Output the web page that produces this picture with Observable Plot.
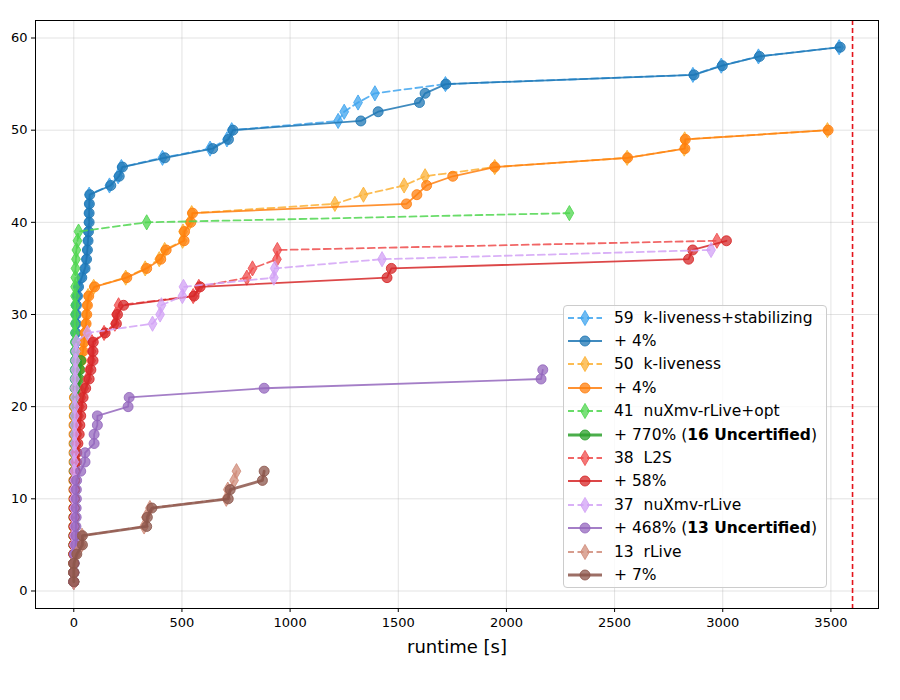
<!DOCTYPE html>
<html>
<head>
<meta charset="utf-8">
<script src="https://cdn.jsdelivr.net/npm/d3@7"></script>
<script src="https://cdn.jsdelivr.net/npm/@observablehq/plot@0.6"></script>
<style>
  body { margin: 0; background: #fff; font-family: "DejaVu Sans", sans-serif; }
  #chart { position: relative; width: 900px; height: 700px; }
  #legend {
    position: absolute; left: 563px; top: 305px; width: 264px; height: 283px;
    box-sizing: border-box; border: 1px solid #cccccc; border-radius: 4px;
    background: rgba(255,255,255,0.8); padding: 0 0 0 4px;
  }
  .row { height: 23.4px; display: flex; align-items: center; font-size: 15.5px; white-space: pre; color: #000; }
  .row svg { margin-right: 12px; flex: none; }
</style>
</head>
<body>
<div id="chart"></div>
<script>
// Timeout limit and axis ticks
const timeout = 3600;
const xTicks = [0, 500, 1000, 1500, 2000, 2500, 3000, 3500];
const yTicks = [0, 10, 20, 30, 40, 50, 60];

// Sorted runtimes [s] of solved instances per configuration (cactus plot: n-th solved vs runtime)
const kLiveStab = [0,0,0,0,0,0,1,1,1,1, 2,2,2,2,3,3,3,4,4,5, 5,6,6,7,7,8,8,9,10,10,
  11,16,21,35,50,57,61,64,66,68,69,70,71, 165,205,220,410,630,708,730,
  1222,1250,1314,1392,1718,2862,2993,3165,3538];
const kLiveStabCert = [0,0,0,0,0,1,1,1,1,2, 2,2,2,3,3,3,4,4,5,5, 6,6,7,7,8,8,9,9,10,11,
  12,17,22,37,52,59,63,66,68,71,71,72,74, 171,210,225,421,642,715,736,
  1327,1407,1598,1624,1720,2867,2998,3170,3543];

const kLive = [0,0,0,0,0,0,0,0,0,0, 0,0,0,1,1,1,1,1,1,2,
  2,8,15,23,33,41,46,50,55,58,61,66,92, 240,330,395,420,503,505,535,545,
  1207,1339,1527,1624,1946,2558,2822,2824,3484];
const kLiveCert = [0,0,0,0,0,0,0,0,0,0, 0,0,1,1,1,1,1,1,2,2,
  3,9,17,25,35,43,48,52,57,60,63,69,96, 245,337,402,427,510,512,541,549,
  1538,1586,1631,1752,1946,2560,2825,2827,3487];

const nuXmvOpt = [0,0,0,0,0,0,0,0,0,0, 1,1,1,1,1,1,2,2,2,2,
  3,3,3,3,4,4,4,5,5,5,6,6,6,7, 8,10,12,17,22,337,2291];
const nuXmvOptCert = [0,0,0,1,1,1,2,2,3,3, 4,4,5,6,7,8,9,11,13,15, 18,21,25,28,32];

const l2s = [0,0,0,0,0,0,1,1,2,2, 3,4,6,8,10,13,17,20,24,28,
  35,48,62,70,80,82,84,140,190,195,207, 552,578,800,826,939,941,2973];
const l2sCert = [0,0,0,0,1,1,1,2,2,3, 4,5,7,12,14,19,25,28,32,37,
  43,55,71,79,89,89,90,145,197,202,230, 556,584,1448,1468,2842,2861,3017];

const nuXmv = [0,0,0,0,0,0,1,1,1,1, 1,2,2,2,2,3,3,3,4,4,
  5,5,6,7,8,9,11, 63,364,399,405,502,507,925,929,1425,2946];
const nuXmvCert = [0,1,2,3,9,10,10,11,11,12, 12,13,32,52,52,94,94,109,109,251,
  256,880,2160,2168];

const rLive = [0,0,0,12,36,38,325,333,352,705,712,741,752];
const rLiveCert = [0,0,1,14,40,40,337,340,361,714,723,872,880];

// Legend entries: label text, bold part, closing text
const labels = [
  ["59  k-liveness+stabilizing"], ["+ 4%"],
  ["50  k-liveness"], ["+ 4%"],
  ["41  nuXmv-rLive+opt"], ["+ 770% (", "16 Uncertified", ")"],
  ["38  L2S"], ["+ 58%"],
  ["37  nuXmv-rLive"], ["+ 468% (", "13 Uncertified", ")"],
  ["13  rLive"], ["+ 7%"]
];

// Drawing style per series (dashed = solver run, solid = with certification)
const series = [
  {values: kLiveStab,     color: "#3fa4ee", dashed: true,  width: 1.8},
  {values: kLiveStabCert, color: "#1f77b4", dashed: false, width: 1.8},
  {values: kLive,         color: "#fbb034", dashed: true,  width: 1.8},
  {values: kLiveCert,     color: "#ff7f0e", dashed: false, width: 1.8},
  {values: nuXmvOpt,      color: "#4fd64f", dashed: true,  width: 1.8},
  {values: nuXmvOptCert,  color: "#2ca02c", dashed: false, width: 2.8},
  {values: l2s,           color: "#ef4b4b", dashed: true,  width: 1.8},
  {values: l2sCert,       color: "#d62728", dashed: false, width: 1.8},
  {values: nuXmv,         color: "#d2a2f6", dashed: true,  width: 1.8},
  {values: nuXmvCert,     color: "#9467bd", dashed: false, width: 1.8},
  {values: rLive,         color: "#d08c7a", dashed: true,  width: 1.8},
  {values: rLiveCert,     color: "#8c564b", dashed: false, width: 2.8}
];

const seriesMarks = series.flatMap(s => {
  const data = s.values.map((t, i) => ({t, n: i + 1}));
  return [
    Plot.line(data, {x: "t", y: "n", stroke: s.color, strokeWidth: s.width,
      strokeOpacity: 0.85, strokeDasharray: s.dashed ? "7,4" : null}),
    Plot.dot(data, {x: "t", y: "n", symbol: s.dashed ? "diamond" : "circle",
      r: s.dashed ? 4.6 : 5, fill: s.color, fillOpacity: 0.75,
      stroke: s.color, strokeOpacity: 0.85, strokeWidth: 1})
  ];
});

const chart = Plot.plot({
  width: 900,
  height: 700,
  marginLeft: 35,
  marginRight: 22,
  marginTop: 20,
  marginBottom: 92,
  style: {fontFamily: "DejaVu Sans, sans-serif", background: "#fff", color: "#000"},
  x: {domain: [-177, 3720]},
  y: {domain: [-1.9, 61.9]},
  marks: [
    Plot.gridX(xTicks, {stroke: "#b0b0b0", strokeOpacity: 0.35, strokeWidth: 1}),
    Plot.gridY(yTicks, {stroke: "#b0b0b0", strokeOpacity: 0.35, strokeWidth: 1}),
    Plot.ruleX([timeout], {stroke: "#e4141b", strokeWidth: 1.6, strokeDasharray: "5,3"}),
    ...seriesMarks,
    Plot.frame({stroke: "#000", strokeWidth: 1}),
    Plot.axisX(xTicks, {tickSize: 4, tickPadding: 5, fontSize: 13, tickFormat: d => String(d),
      label: "runtime [s]", labelAnchor: "center", labelArrow: "none", labelOffset: 44}),
    Plot.axisY(yTicks, {tickSize: 4, tickPadding: 4, fontSize: 13, tickFormat: d => String(d), label: null})
  ]
});

const root = document.getElementById("chart");
root.appendChild(chart);
d3.select(chart).selectAll("[aria-label='x-axis label'] text").style("font-size", "18px");

// Legend drawn inside the plot area, lower right
const legend = d3.select(root).append("div").attr("id", "legend");
series.forEach((s, i) => {
  const row = legend.append("div").attr("class", "row");
  const svg = row.append("svg").attr("width", 34).attr("height", 20);
  svg.append("line").attr("x1", 0).attr("x2", 34).attr("y1", 10).attr("y2", 10)
    .attr("stroke", s.color).attr("stroke-width", s.width).attr("stroke-opacity", 0.85)
    .attr("stroke-dasharray", s.dashed ? "6,3.5" : null);
  const sym = s.dashed ? d3.symbol(d3.symbolDiamond, Math.PI * 4.6 * 4.6)
                       : d3.symbol(d3.symbolCircle, Math.PI * 25);
  svg.append("path").attr("d", sym()).attr("transform", "translate(17,10)")
    .attr("fill", s.color).attr("fill-opacity", 0.75)
    .attr("stroke", s.color).attr("stroke-opacity", 0.85);
  const lab = labels[i];
  const txt = row.append("span");
  txt.append("span").text(lab[0]);
  if (lab.length > 2) {
    txt.append("b").text(lab[1]);
    txt.append("span").text(lab[2]);
  }
});
</script>
</body>
</html>
